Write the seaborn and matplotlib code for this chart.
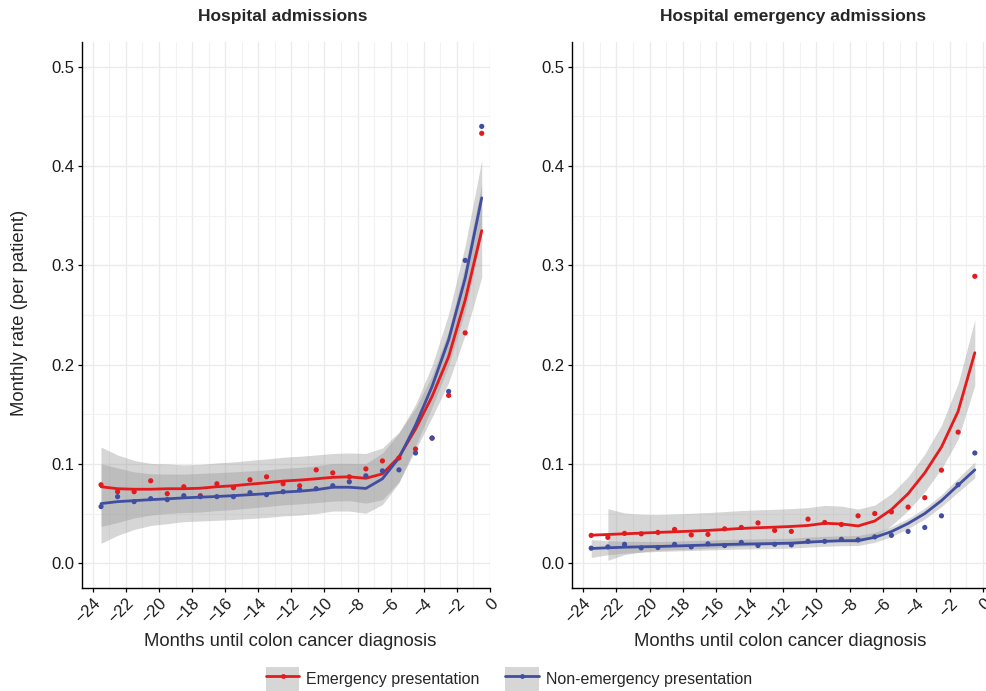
import matplotlib
matplotlib.use("Agg")
import numpy as np
import pandas as pd
import matplotlib.pyplot as plt
import seaborn as sns
from matplotlib.patches import Patch
from matplotlib.lines import Line2D
from matplotlib.legend_handler import HandlerTuple
from matplotlib.ticker import MultipleLocator, FormatStrFormatter

# Monthly midpoints before diagnosis
months = [-23.5, -22.5, -21.5, -20.5, -19.5, -18.5, -17.5, -16.5, -15.5, -14.5,
          -13.5, -12.5, -11.5, -10.5, -9.5, -8.5, -7.5, -6.5, -5.5, -4.5,
          -3.5, -2.5, -1.5, -0.5]

groups = ["Emergency presentation", "Non-emergency presentation"]
colors = {"Emergency presentation": "#E41A1C", "Non-emergency presentation": "#3F4EA1"}

# ---- Hospital admissions: observed monthly rates
adm_emerg_rate = [0.079, 0.072, 0.072, 0.083, 0.070, 0.077, 0.068, 0.080, 0.076, 0.084,
                  0.087, 0.080, 0.078, 0.094, 0.091, 0.087, 0.095, 0.103, 0.106, 0.115,
                  0.126, 0.169, 0.232, 0.433]
adm_nonemerg_rate = [0.057, 0.067, 0.062, 0.065, 0.064, 0.068, 0.067, 0.067, 0.067, 0.071,
                     0.069, 0.072, 0.074, 0.075, 0.078, 0.082, 0.088, 0.093, 0.094, 0.111,
                     0.126, 0.173, 0.305, 0.440]
# smoothed trend and half-width of its confidence band
adm_emerg_fit = [0.077, 0.075, 0.0745, 0.0745, 0.075, 0.075, 0.0755, 0.077, 0.078, 0.0796,
                 0.081, 0.0827, 0.0837, 0.085, 0.0865, 0.087, 0.0855, 0.090, 0.107, 0.135,
                 0.168, 0.208, 0.265, 0.335]
adm_nonemerg_fit = [0.060, 0.062, 0.063, 0.064, 0.0648, 0.0658, 0.0665, 0.0672, 0.068, 0.069,
                    0.070, 0.0716, 0.0725, 0.0740, 0.0765, 0.0765, 0.0753, 0.085, 0.106, 0.139,
                    0.178, 0.225, 0.287, 0.368]
adm_emerg_ci = [0.040, 0.034, 0.029, 0.026, 0.025, 0.024, 0.024, 0.024, 0.024, 0.024,
                0.024, 0.024, 0.024, 0.024, 0.024, 0.024, 0.025, 0.026, 0.025, 0.021,
                0.021, 0.026, 0.035, 0.047]
adm_nonemerg_ci = [0.040, 0.034, 0.029, 0.026, 0.025, 0.024, 0.024, 0.024, 0.024, 0.024,
                   0.024, 0.024, 0.024, 0.024, 0.024, 0.024, 0.025, 0.026, 0.025, 0.021,
                   0.021, 0.026, 0.033, 0.038]

# ---- Hospital emergency admissions
em_emerg_rate = [0.028, 0.026, 0.030, 0.0296, 0.031, 0.034, 0.0285, 0.029, 0.0346, 0.036,
                 0.0406, 0.033, 0.032, 0.0444, 0.041, 0.039, 0.0477, 0.050, 0.0517, 0.0565,
                 0.066, 0.0937, 0.132, 0.289]
em_nonemerg_rate = [0.0151, 0.0164, 0.019, 0.0154, 0.0158, 0.019, 0.0164, 0.0195, 0.0178, 0.0209,
                    0.0178, 0.019, 0.0185, 0.022, 0.022, 0.024, 0.0235, 0.0265, 0.028, 0.032,
                    0.036, 0.0477, 0.079, 0.111]
em_emerg_fit = [0.0282, 0.0289, 0.0296, 0.0303, 0.031, 0.0316, 0.0323, 0.033, 0.034, 0.035,
                0.0357, 0.0363, 0.0370, 0.0380, 0.0402, 0.0395, 0.0375, 0.0425, 0.054, 0.070,
                0.091, 0.117, 0.153, 0.212]
em_nonemerg_fit = [0.0148, 0.0155, 0.0161, 0.0165, 0.0168, 0.0173, 0.0178, 0.0183, 0.0188, 0.0192,
                   0.0195, 0.0198, 0.0202, 0.0212, 0.0220, 0.0226, 0.0228, 0.026, 0.0318, 0.040,
                   0.050, 0.063, 0.0786, 0.094]
em_emerg_ci = [0.032, 0.026, 0.021, 0.019, 0.018, 0.018, 0.018, 0.018, 0.018, 0.018,
               0.018, 0.018, 0.018, 0.018, 0.018, 0.018, 0.017, 0.016, 0.016, 0.017,
               0.019, 0.022, 0.028, 0.033]
em_nonemerg_ci = [0.009, 0.007, 0.006, 0.0055, 0.005, 0.005, 0.005, 0.005, 0.005, 0.005,
                  0.005, 0.005, 0.005, 0.005, 0.005, 0.005, 0.005, 0.005, 0.005, 0.005,
                  0.0055, 0.006, 0.007, 0.008]

x_ticks = [-24, -22, -20, -18, -16, -14, -12, -10, -8, -6, -4, -2, 0]
y_ticks = [0.0, 0.1, 0.2, 0.3, 0.4, 0.5]


def panel_frame(rates, fits, cis):
    frames = []
    for g, r, f, c in zip(groups, rates, fits, cis):
        frames.append(pd.DataFrame({"month": months, "rate": r, "fit": f, "ci": c,
                                    "presentation": g}))
    return pd.concat(frames, ignore_index=True)


adm_df = panel_frame([adm_emerg_rate, adm_nonemerg_rate],
                     [adm_emerg_fit, adm_nonemerg_fit],
                     [adm_emerg_ci, adm_nonemerg_ci])
em_df = panel_frame([em_emerg_rate, em_nonemerg_rate],
                    [em_emerg_fit, em_nonemerg_fit],
                    [em_emerg_ci, em_nonemerg_ci])

sns.set_style("ticks")
plt.rcParams["font.family"] = ["Liberation Sans", "DejaVu Sans"]

W, H = 987, 691
fig = plt.figure(figsize=(W / 100, H / 100), dpi=100)

band_color = "#999999"
y_lo, y_hi = 0.0, 0.5
y_pad = 0.05 * (y_hi - y_lo)


def draw_panel(ax, df, xmax):
    # confidence ribbons (values outside the axis limits are dropped)
    for g in groups:
        d = df[df["presentation"] == g]
        lo = d["fit"] - d["ci"]
        hi = d["fit"] + d["ci"]
        ok = (lo >= y_lo) & (hi <= y_hi)
        ax.fill_between(d["month"], lo.where(ok), hi.where(ok), color=band_color,
                        alpha=0.4, linewidth=0, zorder=2)
    sns.lineplot(data=df, x="month", y="fit", hue="presentation", palette=colors,
                 hue_order=groups, linewidth=2.0, errorbar=None, legend=False,
                 ax=ax, zorder=3)
    sns.scatterplot(data=df, x="month", y="rate", hue="presentation", palette=colors,
                    hue_order=groups, s=14, linewidth=0, legend=False, ax=ax, zorder=4)

    ax.set_xlim(-24.65, xmax)
    ax.set_ylim(y_lo - y_pad, y_hi + y_pad)
    ax.set_xticks(x_ticks)
    ax.xaxis.set_minor_locator(MultipleLocator(1))
    ax.set_yticks(y_ticks)
    ax.yaxis.set_minor_locator(MultipleLocator(0.05))
    ax.yaxis.set_major_formatter(FormatStrFormatter("%.1f"))
    ax.grid(which="major", color="#EBEBEB", linewidth=1.0)
    ax.grid(which="minor", color="#F2F2F2", linewidth=0.8)
    ax.set_axisbelow(True)
    for s in ("top", "right"):
        ax.spines[s].set_visible(False)
    for s in ("left", "bottom"):
        ax.spines[s].set_color("black")
        ax.spines[s].set_linewidth(1.0)
    ax.tick_params(which="major", length=3, width=0.9, color="black",
                   labelsize=12, labelcolor="#1A1A1A", pad=2.5)
    ax.tick_params(which="minor", length=0)
    ax.tick_params(axis="x", labelrotation=45)
    plt.setp(ax.get_xticklabels(), ha="right", va="top", rotation_mode="anchor")
    ax.set_xlabel("")
    ax.set_ylabel("")


top, bottom = 42, 588
ax1 = fig.add_axes([82 / W, 1 - bottom / H, (490 - 82) / W, (bottom - top) / H])
ax2 = fig.add_axes([572 / W, 1 - bottom / H, (994 - 572) / W, (bottom - top) / H])

draw_panel(ax1, adm_df, -0.05)
draw_panel(ax2, em_df, 0.65)

fig.text(283 / W, 1 - 17 / H, "Hospital admissions", ha="center", va="center",
         fontsize=12.5, fontweight="bold")
fig.text(793 / W, 1 - 17 / H, "Hospital emergency admissions", ha="center", va="center",
         fontsize=12.5, fontweight="bold")
fig.text(290 / W, 1 - 642 / H, "Months until colon cancer diagnosis", ha="center",
         va="center", fontsize=13.3)
fig.text(780 / W, 1 - 642 / H, "Months until colon cancer diagnosis", ha="center",
         va="center", fontsize=13.3)
fig.text(20 / W, 1 - 313 / H, "Monthly rate (per patient)", ha="center", va="center",
         rotation=90, fontsize=13.3)

handles = []
for g in groups:
    key_bg = Patch(facecolor="#D6D6D6", edgecolor="none")
    key_line = Line2D([0], [0], color=colors[g], linewidth=2.0, marker="o",
                      markersize=3.5, markeredgewidth=0)
    handles.append((key_bg, key_line))
fig.legend(handles, groups, handler_map={tuple: HandlerTuple(ndivide=1, pad=0)},
           loc="center", bbox_to_anchor=(509 / W, 1 - 679 / H), ncol=2, frameon=False,
           fontsize=11.5, handlelength=2.1, handleheight=1.9, handletextpad=0.45,
           columnspacing=1.6, borderaxespad=0, borderpad=0)

fig.savefig("out.png", dpi=100)
